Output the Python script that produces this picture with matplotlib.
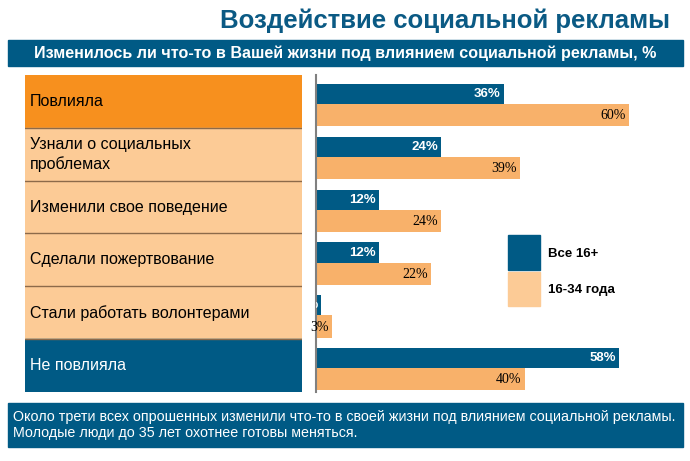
import numpy as np
import matplotlib.pyplot as plt
from matplotlib.patches import Rectangle

# data
categories = ["Повлияла", "Узнали о социальных\nпроблемах", "Изменили свое поведение",
              "Сделали пожертвование", "Стали работать волонтерами", "Не повлияла"]
all_16 = [36, 24, 12, 12, 1, 58]
young = [60, 39, 24, 22, 3, 40]
series_names = ["Все 16+", "16-34 года"]

title = "Воздействие социальной рекламы"
subtitle = "Изменилось ли что-то в Вашей жизни под влиянием социальной рекламы, %"
note = ("Около трети всех опрошенных изменили что-то в своей жизни под влиянием социальной рекламы.\n"
        "Молодые люди до 35 лет охотнее готовы меняться.")

BLUE = "#005a85"
ORANGE = "#f8b16a"
PEACH = "#fccb96"
DARK_ORANGE = "#f7901e"
W, H = 690, 461

sans = ["Liberation Sans", "DejaVu Sans"]

def fr(x0, y0, x1, y1):
    # pixel box -> figure fraction [left, bottom, width, height]
    return [x0 / W, 1 - y1 / H, (x1 - x0) / W, (y1 - y0) / H]

fig = plt.figure(figsize=(W / 100, H / 100), dpi=100)

# background / decoration layer in pixel coords
bg = fig.add_axes([0, 0, 1, 1])
bg.set_xlim(0, W)
bg.set_ylim(H, 0)
bg.axis("off")

bg.text(670, 21, title, ha="right", va="center", fontsize=18.5, fontweight="bold",
        color="#0b5a84", family=sans)
bg.add_patch(Rectangle((8, 40), 675, 26, color=BLUE))
bg.text(345, 53, subtitle, ha="center", va="center", fontsize=11.6, fontweight="bold",
        color="white", family=sans)
bg.add_patch(Rectangle((8, 403), 675, 44, color=BLUE))
bg.text(13, 425, note, ha="left", va="center", fontsize=10.3, color="white",
        family=sans, linespacing=1.2)

# left category boxes
n = len(categories)
top, bottom = 75, 392
lab = fig.add_axes(fr(25, top, 302, bottom))
lab.set_xlim(0, 1)
lab.set_ylim(n, 0)
lab.axis("off")
for i, c in enumerate(categories):
    if i == 0:
        fc, tc = DARK_ORANGE, "black"
    elif i == n - 1:
        fc, tc = BLUE, "white"
    else:
        fc, tc = PEACH, "black"
    lab.add_patch(Rectangle((0, i), 1, 1, color=fc))
    lab.text(0.018, i + 0.5, c, ha="left", va="center", fontsize=11.5, color=tc,
             family=sans, linespacing=1.3)
    if i > 0:
        lab.plot([0, 1], [i, i], color="#8c6a4a", lw=1)

# bars
ax = fig.add_axes(fr(316, top, 316 + 5.22 * 70, bottom))
ax.set_xlim(0, 70)
ax.set_ylim(n, 0)
y = np.arange(n)
ax.barh(y + 0.36, all_16, height=0.38, color=BLUE)
ax.barh(y + 0.76, young, height=0.42, color=ORANGE)
for i in range(n):
    ax.text(all_16[i] - 0.6, y[i] + 0.36, f"{all_16[i]}%", ha="right", va="center",
            fontsize=9.5, fontweight="bold", color="white", family=sans, clip_on=True)
    ax.text(young[i] - 0.6, y[i] + 0.77, f"{young[i]}%", ha="right", va="center",
            fontsize=10, color="black", family=["Liberation Serif", "DejaVu Serif"])
for s in ["top", "right", "bottom"]:
    ax.spines[s].set_visible(False)
ax.spines["left"].set_color("#808080")
ax.spines["left"].set_linewidth(1.5)
ax.set_xticks([])
ax.set_yticks([])
ax.patch.set_alpha(0)

# legend
bg.add_patch(Rectangle((508, 235), 32, 35, color=BLUE))
bg.add_patch(Rectangle((508, 272), 32, 34, color=PEACH))
bg.text(548, 254, series_names[0], ha="left", va="center", fontsize=9.5,
        fontweight="bold", color="black", family=sans)
bg.text(548, 290, series_names[1], ha="left", va="center", fontsize=9.5,
        fontweight="bold", color="black", family=sans)

fig.savefig("out.png", dpi=100)
